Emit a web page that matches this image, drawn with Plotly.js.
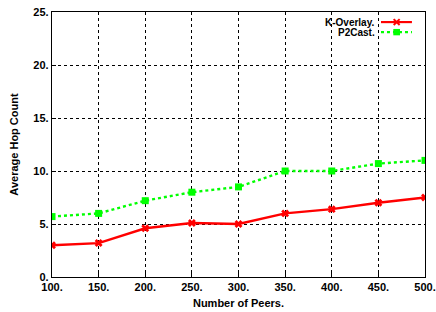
<!DOCTYPE html>
<html><head><meta charset="utf-8">
<script src="https://cdn.plot.ly/plotly-3.0.1.min.js"></script>
<style>html,body{margin:0;padding:0;background:#fff}#c{width:436px;height:312px}</style>
</head><body><div id="c"></div>
<script>
const peers = [100, 150, 200, 250, 300, 350, 400, 450, 500];
const kOverlay = [3.0, 3.2, 4.6, 5.1, 5.0, 6.0, 6.4, 7.0, 7.5];
const p2cast = [5.7, 6.0, 7.2, 8.0, 8.5, 10.0, 10.0, 10.7, 11.0];
const xTickVals = [100, 150, 200, 250, 300, 350, 400, 450, 500];
const xTickText = ["100.", "150.", "200.", "250.", "300.", "350.", "400.", "450.", "500."];
const yTickVals = [0, 5, 10, 15, 20, 25];
const yTickText = ["0.", "5.", "10.", "15.", "20.", "25."];
const seriesNames = ["K-Overlay.", "P2Cast."];

const font = {family: "Liberation Sans, Arial, sans-serif", size: 11, color: "#000", weight: "bold"};
const legFont = {family: "Liberation Sans, Arial, sans-serif", size: 10, color: "#000", weight: "bold"};

const traces = [
  {x: peers, y: kOverlay, name: seriesNames[0], type: "scatter", mode: "lines+markers",
   line: {color: "#ff0000", width: 2.4}, marker: {symbol: "x", size: 7, color: "#ff0000"}},
  {x: peers, y: p2cast, name: seriesNames[1], type: "scatter", mode: "lines+markers",
   line: {color: "#00ff00", width: 2.4, dash: "dot"}, marker: {symbol: "square", size: 7, color: "#00ff00"}}
];

const axisCommon = {
  showline: true, linecolor: "#000", linewidth: 1.2, mirror: true,
  showgrid: true, gridcolor: "#000", griddash: "dot", gridwidth: 1,
  zeroline: false, ticks: "inside", ticklen: 4, tickcolor: "#000",
  tickfont: font
};

const lx0 = 0.882, lx1 = 0.965, lxm = 0.924;
const ly = [0.962, 0.924];
const shapes = [
  {type: "line", xref: "paper", yref: "paper", x0: lx0, x1: lx1, y0: ly[0], y1: ly[0], line: {color: "#ff0000", width: 2.2}},
  {type: "line", xref: "paper", yref: "paper", x0: lxm - 0.008, x1: lxm + 0.008, y0: ly[0] - 0.011, y1: ly[0] + 0.011, line: {color: "#ff0000", width: 2}},
  {type: "line", xref: "paper", yref: "paper", x0: lxm - 0.008, x1: lxm + 0.008, y0: ly[0] + 0.011, y1: ly[0] - 0.011, line: {color: "#ff0000", width: 2}},
  {type: "line", xref: "paper", yref: "paper", x0: lx0, x1: lx1, y0: ly[1], y1: ly[1], line: {color: "#00ff00", width: 2.2, dash: "dot"}},
  {type: "rect", xref: "paper", yref: "paper", x0: lxm - 0.009, x1: lxm + 0.009, y0: ly[1] - 0.012, y1: ly[1] + 0.012, fillcolor: "#00ff00", line: {width: 0}}
];
const annotations = seriesNames.map((n, i) => ({
  text: n, xref: "paper", yref: "paper", x: 0.868, y: ly[i], xanchor: "right", yanchor: "middle",
  showarrow: false, font: legFont, borderpad: 0
}));

const layout = {
  width: 436, height: 312,
  margin: {l: 52, r: 11, t: 12, b: 35},
  paper_bgcolor: "#fff", plot_bgcolor: "#fff",
  showlegend: false,
  font: font,
  xaxis: Object.assign({}, axisCommon, {range: [100, 500], tickvals: xTickVals, ticktext: xTickText,
    title: {text: "Number of Peers.", font: font, standoff: 6}}),
  yaxis: Object.assign({}, axisCommon, {range: [0, 25], tickvals: yTickVals, ticktext: yTickText,
    title: {text: "Average Hop Count", font: font, standoff: 12}}),
  shapes: shapes,
  annotations: annotations
};
Plotly.newPlot("c", traces, layout, {displayModeBar: false, staticPlot: true});
</script></body></html>
